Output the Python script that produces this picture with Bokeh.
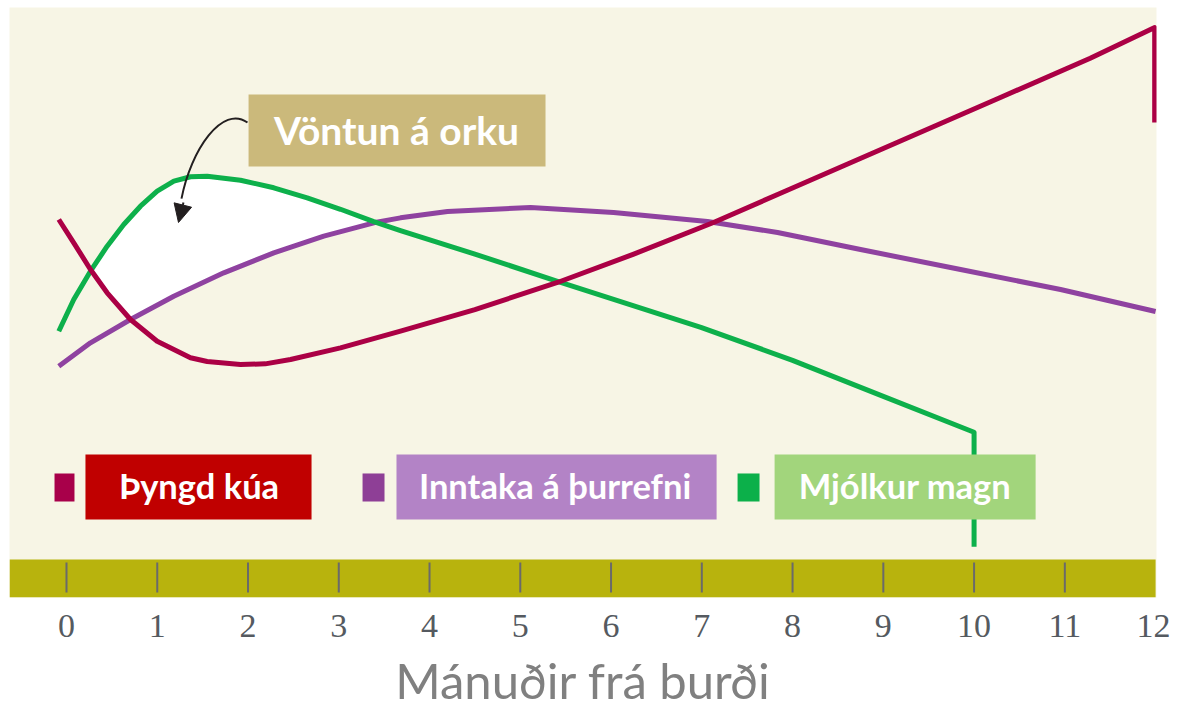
import numpy as np
from bokeh.plotting import figure
from bokeh.models import Range1d, FixedTicker, Arrow, NormalHead
from bokeh.core.properties import value
from bokeh.embed import file_html
from bokeh.resources import INLINE

# ---------------- data ----------------
months_ticks = list(range(0, 13))
tick_marks = list(range(0, 12))

series_names = ["Þyngd kúa", "Inntaka á þurrefni", "Mjólkur magn"]

# Þyngd kúa (cow weight)
red_x = [-0.085, 0.08, 0.264, 0.448, 0.705, 0.999, 1.366, 1.55, 1.917, 2.19, 2.468, 3.019, 3.68,
         4.5, 5.41, 6.25, 7.129, 7.835, 10.29, 11.28, 11.99, 11.99]
red_y = [64.07, 60.12, 55.59, 51.64, 47.12, 43.44, 40.63, 40.0, 39.49, 39.6, 40.34, 42.32, 45.14,
         48.8, 53.39, 58.2, 63.56, 68.3, 84.75, 91.4, 96.6, 80.5]

# Inntaka á þurrefni (dry matter intake)
purple_x = [-0.085, 0.264, 0.705, 1.182, 1.733, 2.284, 2.835, 3.386, 3.68, 4.198, 5.113, 6.028,
            7.063, 7.835, 8.749, 9.851, 10.953, 12.0]
purple_y = [39.2, 43.17, 47.12, 51.07, 55.03, 58.42, 61.24, 63.51, 64.35, 65.42, 66.1, 65.25,
            63.73, 61.86, 58.98, 55.59, 52.2, 48.47]

# Mjólkur magn (milk yield)
green_x = [-0.085, 0.08, 0.264, 0.448, 0.631, 0.815, 0.999, 1.183, 1.366, 1.55, 1.917, 2.284,
           2.652, 3.019, 3.386, 3.68, 4.5, 5.41, 6.99, 8.0, 9.0, 10.0, 10.0]
green_y = [45.13, 50.51, 55.31, 59.54, 63.22, 66.32, 68.86, 70.56, 71.31, 71.41, 70.73, 69.44,
           67.75, 65.8, 63.7, 62.2, 58.2, 53.6, 45.8, 40.2, 34.1, 28.0, 8.6]

annotation_text = "Vöntun á orku"
x_title = "Mánuðir frá burði"

# ---------------- styling ----------------
CREAM = "#f7f5e5"
OLIVE = "#b8b30d"
RED_LINE = "#ab0045"
PURPLE_LINE = "#8f42a0"
GREEN_LINE = "#0db04b"
square_colors = ["#a8004a", "#8e3f96", "#0cb04a"]
box_colors = ["#c00000", "#b383c6", "#a2d57c"]
FONT = "Lato"
LW = 5

p = figure(frame_width=1147, frame_height=590,
           x_range=Range1d(-0.628, 12.01), y_range=Range1d(0, 100),
           output_backend="svg", toolbar_location=None,
           min_border_left=9, min_border_top=7, min_border_right=14, min_border_bottom=0)
p.background_fill_color = CREAM
p.border_fill_color = "white"
p.outline_line_color = None
p.grid.visible = False
p.yaxis.visible = False

# olive band with tick marks
p.quad(left=-0.628, right=12.0, bottom=0, top=6.44, fill_color=OLIVE, line_color=None)
p.segment(x0=tick_marks, x1=tick_marks, y0=[0.85] * len(tick_marks), y1=[5.93] * len(tick_marks),
          line_color="#6a6a6a", line_width=2)

# white "energy deficit" area between milk curve and the higher of the other two
xs = np.linspace(-0.08, 4.0, 800)
g = np.interp(xs, green_x[:-1], green_y[:-1])
r = np.interp(xs, red_x[:-1], red_y[:-1])
pu = np.interp(xs, purple_x, purple_y)
lower = np.maximum(r, pu)
upper = np.maximum(g, lower)
p.varea(x=xs, y1=lower, y2=upper, fill_color="white")

# curves
p.line(purple_x, purple_y, line_color=PURPLE_LINE, line_width=LW, line_join="round")
p.line(green_x, green_y, line_color=GREEN_LINE, line_width=LW, line_join="round")
p.line(red_x, red_y, line_color=RED_LINE, line_width=LW, line_join="round")

# annotation box + curved arrow
p.quad(left=2.006, right=5.278, bottom=73.05, top=85.25, fill_color="#cbb97b", line_color=None)
p.text(x=[3.636], y=[79.3], text=[annotation_text], text_color="white",
       text_font=value(FONT), text_font_style="bold", text_font_size="39px",
       text_align="center", text_baseline="middle")
p.bezier(x0=[1.994], y0=[80.5], cx0=[1.72], cy0=[83.6], cx1=[1.37], cy1=[75.9],
         x1=[1.267], y1=[67.6], line_color="#231f20", line_width=2)
p.add_layout(Arrow(end=NormalHead(size=18, fill_color="#231f20", line_color="#231f20"),
                   x_start=1.289, y_start=66.95, x_end=1.234, y_end=63.56,
                   line_color="#231f20", line_width=2))

# legend-like labels
sq_left = [-0.132, 3.262, 7.394]
sq_right = [0.088, 3.504, 7.636]
box_left = [0.209, 3.636, 7.802]
box_right = [2.700, 7.163, 10.678]
text_x = [1.460, 5.383, 9.240]
p.quad(left=sq_left, right=sq_right, bottom=[16.27] * 3, top=[21.02] * 3,
       fill_color=square_colors, line_color=None)
p.quad(left=box_left, right=box_right, bottom=[13.22] * 3, top=[24.24] * 3,
       fill_color=box_colors, line_color=None)
p.text(x=text_x, y=[18.9] * 3, text=series_names, text_color="white",
       text_font=value(FONT), text_font_style="bold", text_font_size="34.5px",
       text_align="center", text_baseline="middle")

# x axis
ax = p.xaxis[0]
ax.ticker = FixedTicker(ticks=months_ticks)
ax.axis_line_color = None
ax.major_tick_line_color = None
ax.minor_tick_line_color = None
ax.major_tick_in = 0
ax.major_tick_out = 0
ax.major_label_standoff = 17
ax.major_label_text_font = "Liberation Serif"
ax.major_label_text_font_size = "34px"
ax.major_label_text_color = "#555a60"
ax.axis_label = x_title
ax.axis_label_text_font = FONT
ax.axis_label_text_font_style = "normal"
ax.axis_label_text_font_size = "49px"
ax.axis_label_text_color = "#808080"
ax.axis_label_standoff = 11

open("out.html", "w").write(file_html(p, INLINE))
